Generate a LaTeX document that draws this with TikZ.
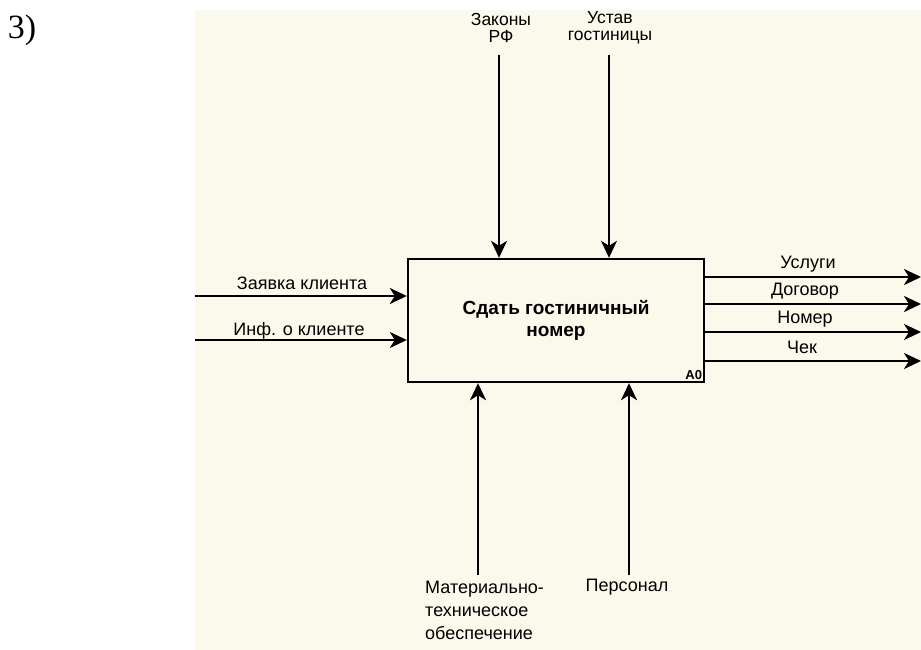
\documentclass[tikz,border=0pt]{standalone}
\usepackage{fontspec}
\setmainfont{Liberation Serif}
\newfontfamily\idef{Liberation Sans}
\usetikzlibrary{arrows.meta}
\definecolor{paper}{RGB}{251,248,236}
\tikzset{
  lbl/.style={font=\idef\fontsize{18}{23}\selectfont, inner sep=0pt, align=center},
  toplbl/.style={lbl, font=\idef\fontsize{17.5}{17}\selectfont},
  flow/.style={-{Stealth[length=17pt,width=16pt,inset=5pt]}, line width=2.6pt},
  thinflow/.style={flow, line width=1.6pt}
}
\begin{document}
\begin{tikzpicture}[x=1pt,y=-1pt]
      \useasboundingbox (0,0) rectangle (921,650);
      \fill[white] (0,0) rectangle (921,650);
      \fill[paper] (195,10) rectangle (921,650);
      \draw
        (22,30) node[font=\fontsize{34}{40}\selectfont] (num){3)}
        (556,320.5) node[draw, line width=2.4pt, minimum width=296pt, minimum height=123pt,
          font=\idef\bfseries\fontsize{19}{22}\selectfont, align=center] (a0){Сдать гостиничный\\номер}
        (a0.south east) node[anchor=south east, inner sep=3pt, font=\idef\bfseries\fontsize{13}{13}\selectfont] (a0n){A0}
        (501,28) node[toplbl] (zakl){Законы\\РФ}
        (610,28) node[toplbl] (ustl){Устав\\гостиницы}
        (302,283) node[lbl] (zvl){Заявка клиента}
        (299,331) node[lbl] (infl){Инф. о клиенте}
        (808,264) node[lbl] (usll){Услуги}
        (805,291) node[lbl] (dogl){Договор}
        (805,319) node[lbl] (noml){Номер}
        (802,347) node[lbl] (chekl){Чек}
        (425,581) node[lbl, anchor=north west, align=left] (matl){Материально-\\техническое\\обеспечение}
        (627,587) node[lbl] (persl){Персонал};
      \coordinate (zak) at (499,55);
      \coordinate (ust) at (609,55);
      \coordinate (zv) at (195,296);
      \coordinate (inf) at (195,340);
      \coordinate (usl) at (921,277);
      \coordinate (dog) at (921,304);
      \coordinate (nom) at (921,332);
      \coordinate (chek) at (921,361);
      \coordinate (mat) at (478,575);
      \coordinate (pers) at (629,575);
      \begin{scope}[flow]
        \draw[thinflow] (zak) to (zak |- a0.north);
        \draw[thinflow] (ust) to (ust |- a0.north);
        \draw (zv) to (zv -| a0.west);
        \draw[thinflow] (inf) to (inf -| a0.west);
        \draw (usl -| a0.east) to (usl);
        \draw (dog -| a0.east) to (dog);
        \draw (nom -| a0.east) to (nom);
        \draw (chek -| a0.east) to (chek);
        \draw (mat) to (mat |- a0.south);
        \draw (pers) to (pers |- a0.south);
      \end{scope}
    \end{tikzpicture}
\end{document}
